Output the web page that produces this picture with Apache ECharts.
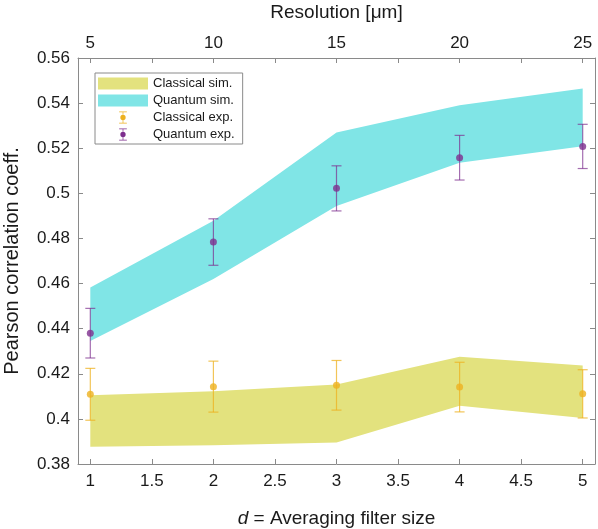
<!DOCTYPE html>
<html>
<head>
<meta charset="utf-8">
<script src="https://cdn.jsdelivr.net/npm/echarts@6/dist/echarts.min.js"></script>
<style>html,body{margin:0;padding:0;background:#fff;}#c{width:598px;height:529px;}</style>
</head>
<body>
<div id="c"></div>
<script>
const dValues = [1, 2, 3, 4, 5];
const classicalSimLow = [0.3876, 0.3883, 0.3895, 0.4058, 0.4004];
const classicalSimHigh = [0.4105, 0.4122, 0.4152, 0.4275, 0.4237];
const quantumSimLow = [0.4345, 0.4620, 0.4944, 0.5136, 0.5209];
const quantumSimHigh = [0.4583, 0.4878, 0.5270, 0.5390, 0.5465];
const classicalExpMean = [0.4109, 0.4143, 0.4149, 0.4141, 0.4111];
const classicalExpErr = [0.0115, 0.0113, 0.0110, 0.0110, 0.0107];
const quantumExpMean = [0.4380, 0.4784, 0.5022, 0.5158, 0.5208];
const quantumExpErr = [0.0110, 0.0103, 0.0100, 0.0099, 0.0098];
const bottomTicks = [1, 1.5, 2, 2.5, 3, 3.5, 4, 4.5, 5];
const topTicks = [5, 7.5, 10, 12.5, 15, 17.5, 20, 22.5, 25];
const topLabels = [5, 10, 15, 20, 25];

const YELLOW = '#e3e27e';
const CYAN = '#80e5e6';
const ORANGE = '#edb120';
const PURPLE = '#7e2f8e';
const AXIS = '#8a8a8a';
const TEXT = '#1a1a1a';
const FONT = 'Liberation Sans';

function bandSeries(name, low, high, color) {
  return {
    type: 'custom', name: name, xAxisIndex: 0, yAxisIndex: 0, z: 1,
    itemStyle: {color: color},
    data: dValues.map((d, i) => [d, low[i], high[i]]),
    renderItem: function (params, api) {
      if (params.dataIndex !== 0) return null;
      const pts = [];
      for (let i = 0; i < dValues.length; i++) pts.push(api.coord([dValues[i], high[i]]));
      for (let i = dValues.length - 1; i >= 0; i--) pts.push(api.coord([dValues[i], low[i]]));
      return {type: 'polygon', shape: {points: pts}, style: {fill: color, stroke: null}};
    }
  };
}

function errSeries(name, mean, err, color, barColor) {
  return [
    {
      type: 'custom', name: name, xAxisIndex: 0, yAxisIndex: 0, z: 3,
      itemStyle: {color: color},
      data: dValues.map((d, i) => [d, mean[i] - err[i], mean[i] + err[i]]),
      renderItem: function (params, api) {
        const lo = api.coord([api.value(0), api.value(1)]);
        const hi = api.coord([api.value(0), api.value(2)]);
        const w = 5;
        const st = {stroke: barColor, lineWidth: 1.2};
        return {
          type: 'group',
          children: [
            {type: 'line', shape: {x1: lo[0], y1: lo[1], x2: hi[0], y2: hi[1]}, style: st},
            {type: 'line', shape: {x1: lo[0] - w, y1: lo[1], x2: lo[0] + w, y2: lo[1]}, style: st},
            {type: 'line', shape: {x1: hi[0] - w, y1: hi[1], x2: hi[0] + w, y2: hi[1]}, style: st}
          ]
        };
      }
    },
    {
      type: 'scatter', name: name, xAxisIndex: 0, yAxisIndex: 0, z: 4,
      symbol: 'circle', symbolSize: 7, itemStyle: {color: color},
      data: dValues.map((d, i) => [d, mean[i]])
    }
  ];
}

const errIcon = 'path://M0.5,0H9.5V0.8H0.5Z M0.5,13.2H9.5V14H0.5Z M4.6,0H5.4V14H4.6Z M5,3.9A3.1,3.1 0 1 1 4.99,3.9Z';

const tickStyle = {show: true, inside: true, length: 5, lineStyle: {color: AXIS}};
const axisCommon = {
  axisLine: {show: true, lineStyle: {color: AXIS, width: 1}},
  splitLine: {show: false}
};
const labelBase = {color: TEXT, fontFamily: FONT, fontSize: 17};
const nameBase = {fontFamily: FONT, fontSize: 19, color: TEXT};

const option = {
  animation: false,
  backgroundColor: '#fff',
  textStyle: {fontFamily: FONT},
  grid: {left: 78, right: 3, top: 58, bottom: 65, containLabel: false, outerBoundsMode: 'none'},
  legend: {
    orient: 'vertical', left: 95, top: 73,
    backgroundColor: '#fff',
    borderColor: '#8a8a8a', borderWidth: 1,
    padding: [4, 8, 3, 3],
    itemWidth: 50, itemHeight: 12, itemGap: 4,
    textStyle: {fontFamily: FONT, fontSize: 13, color: TEXT},
    itemStyle: {borderWidth: 0},
    data: [
      {name: 'Classical sim.', icon: 'rect'},
      {name: 'Quantum sim.', icon: 'rect'},
      {name: 'Classical exp.', icon: errIcon},
      {name: 'Quantum exp.', icon: errIcon}
    ]
  },
  xAxis: [
    Object.assign({}, axisCommon, {
      type: 'value', position: 'bottom', min: 0.9, max: 5.1,
      name: '{i|d} = Averaging filter size', nameLocation: 'middle', nameGap: 45,
      nameTextStyle: Object.assign({}, nameBase, {rich: {i: Object.assign({fontStyle: 'italic'}, nameBase)}}),
      axisTick: Object.assign({customValues: bottomTicks}, tickStyle),
      axisLabel: Object.assign({margin: 9, customValues: bottomTicks}, labelBase)
    }),
    Object.assign({}, axisCommon, {
      type: 'value', position: 'top', min: 4.5, max: 25.5,
      name: 'Resolution [μm]', nameLocation: 'middle', nameGap: 36,
      nameTextStyle: nameBase,
      axisTick: Object.assign({customValues: topTicks}, tickStyle),
      axisLabel: Object.assign({margin: 6, customValues: topLabels}, labelBase)
    })
  ],
  yAxis: [
    Object.assign({}, axisCommon, {
      type: 'value', position: 'left', min: 0.38, max: 0.56, interval: 0.02,
      name: 'Pearson correlation coeff.', nameLocation: 'middle', nameGap: 56,
      nameTextStyle: Object.assign({}, nameBase, {fontSize: 20}),
      axisTick: tickStyle,
      axisLabel: Object.assign({margin: 8}, labelBase)
    }),
    Object.assign({}, axisCommon, {
      type: 'value', position: 'right', min: 0.38, max: 0.56, interval: 0.02,
      axisTick: tickStyle,
      axisLabel: {show: false}
    })
  ],
  series: [].concat(
    [bandSeries('Classical sim.', classicalSimLow, classicalSimHigh, YELLOW)],
    [bandSeries('Quantum sim.', quantumSimLow, quantumSimHigh, CYAN)],
    errSeries('Classical exp.', classicalExpMean, classicalExpErr, ORANGE, 'rgba(237,177,32,0.75)'),
    errSeries('Quantum exp.', quantumExpMean, quantumExpErr, PURPLE, 'rgba(126,47,142,0.7)')
  )
};

const chart = echarts.init(document.getElementById('c'), null, {renderer: 'canvas'});
chart.setOption(option);
</script>
</body>
</html>
